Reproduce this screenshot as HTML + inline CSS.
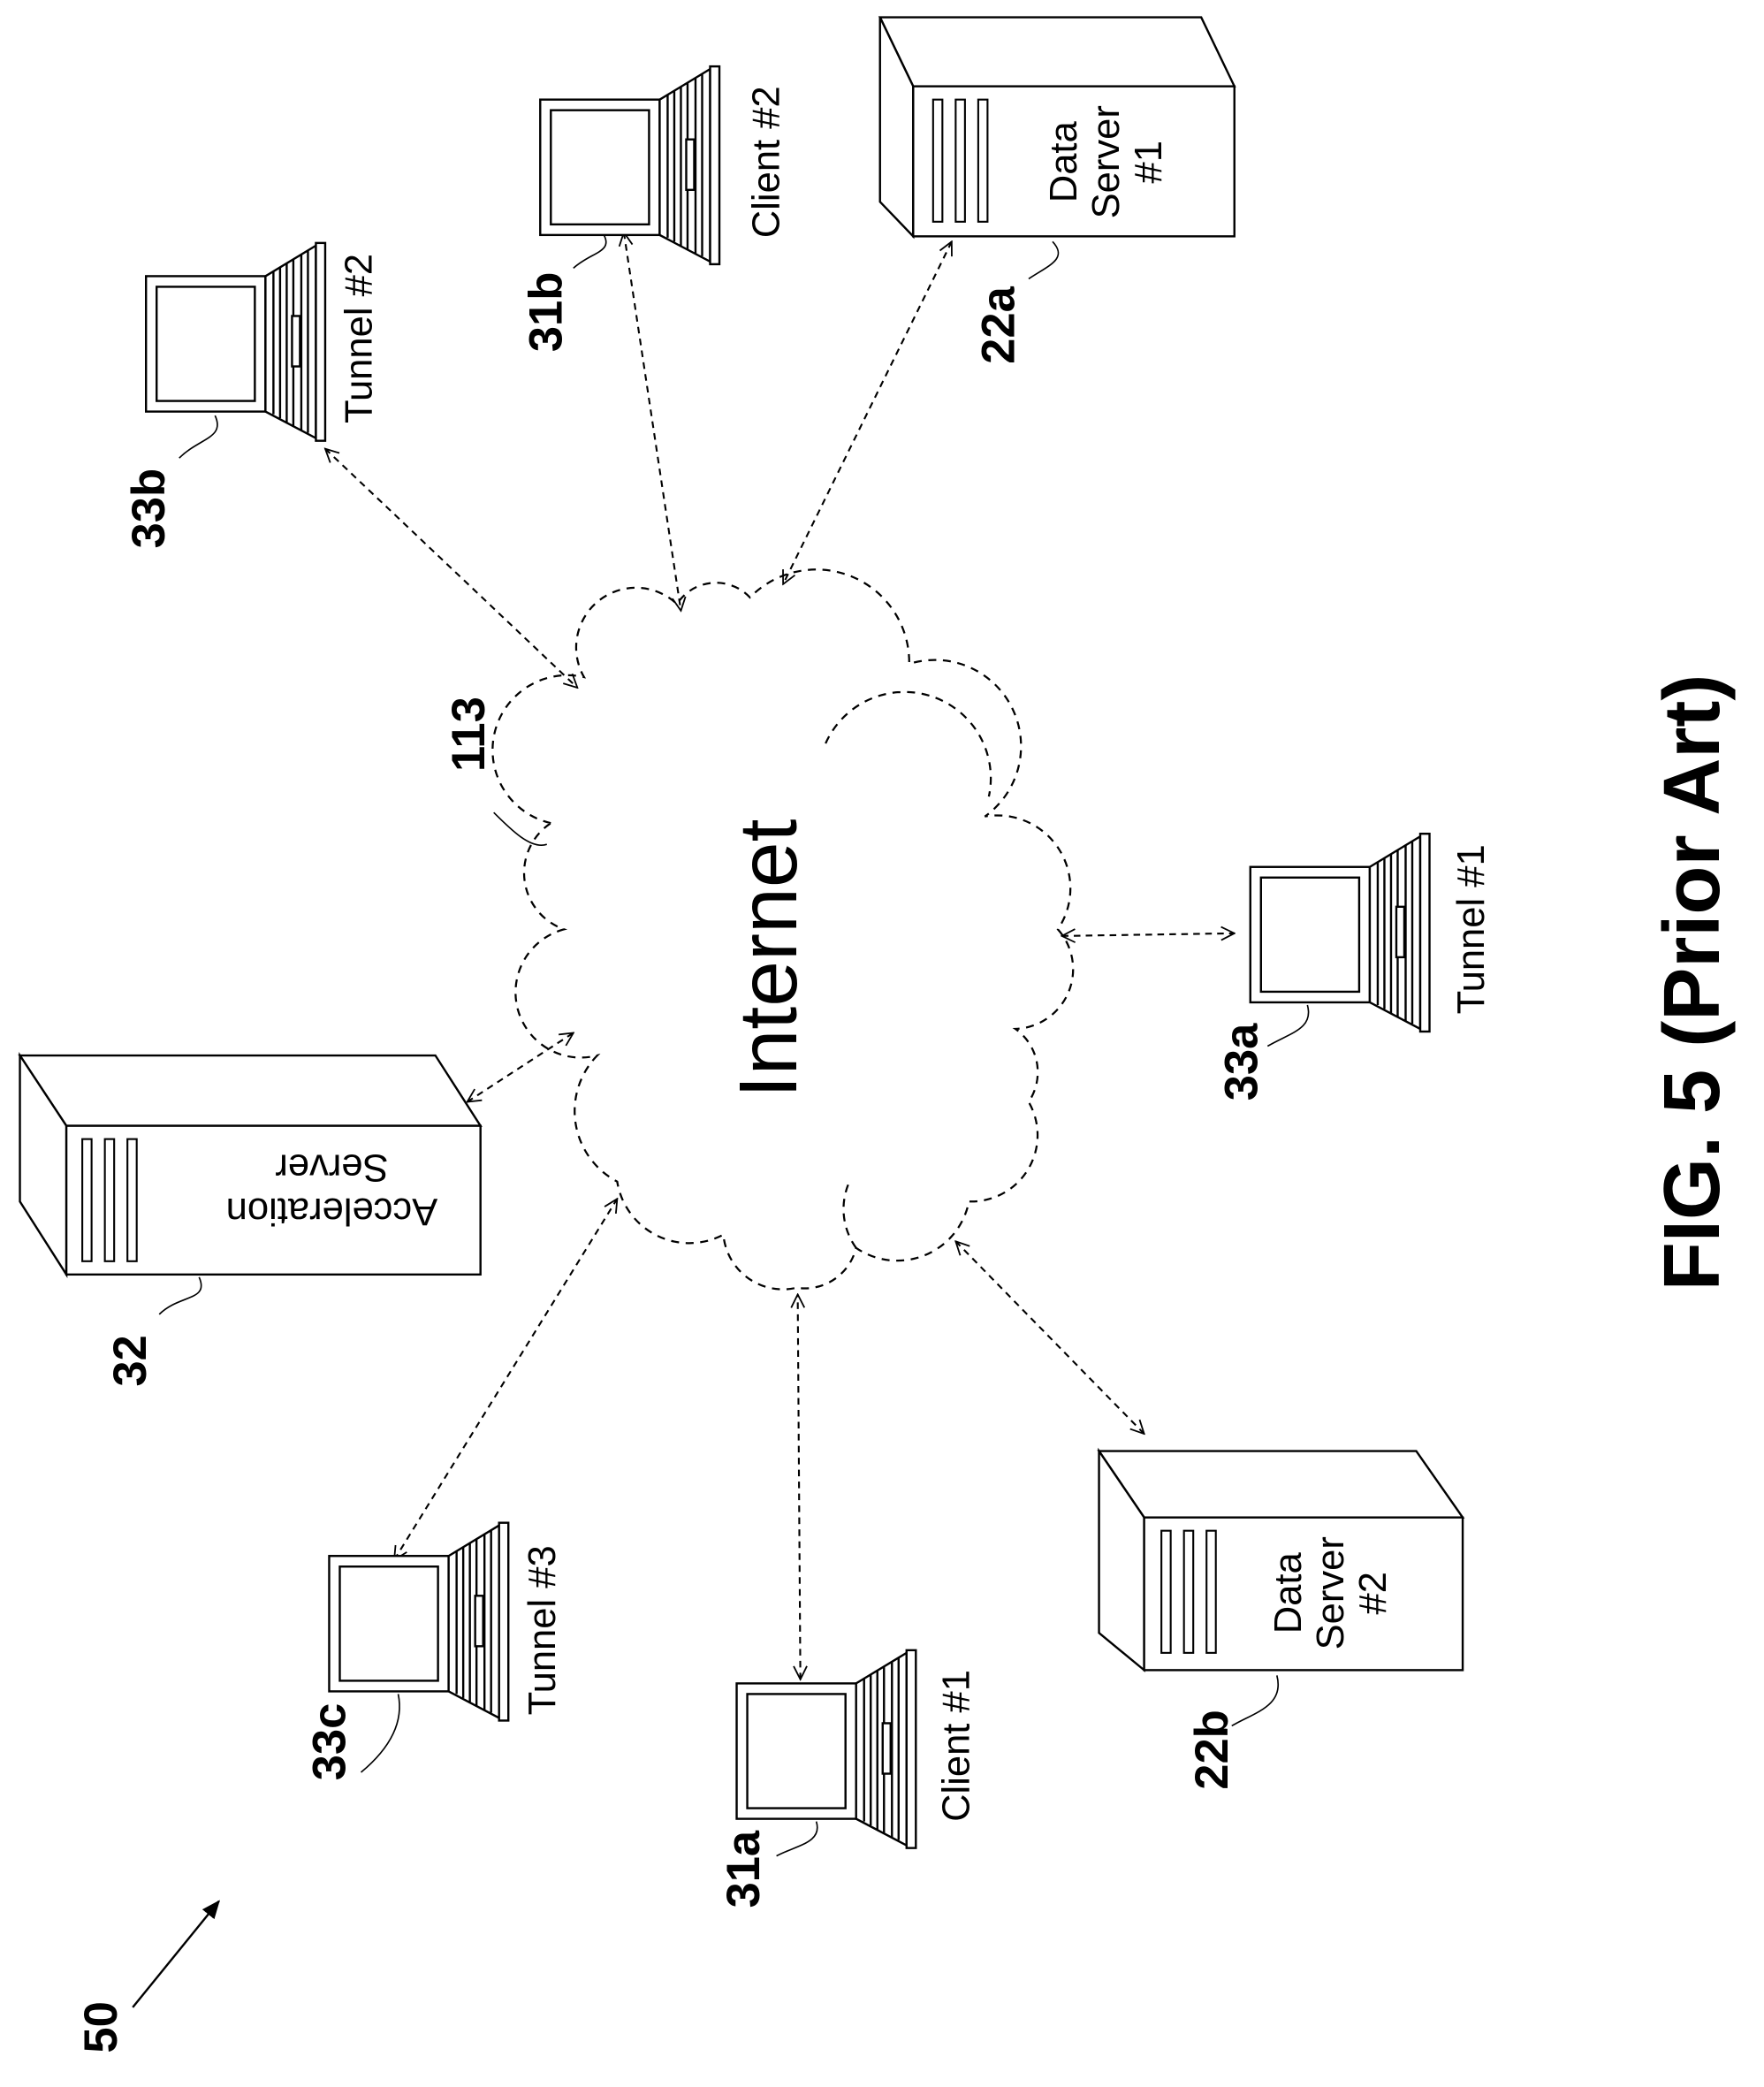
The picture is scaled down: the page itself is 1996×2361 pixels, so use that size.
<!DOCTYPE html>
<html><head><meta charset="utf-8"><style>
html,body{margin:0;padding:0;background:#fff;}
svg{display:block;}
text{font-family:"Liberation Sans",Arial,sans-serif;fill:#000;}
.b{font-weight:bold;}
</style></head><body>
<svg width="1996" height="2361" viewBox="0 0 1329 1572" xmlns="http://www.w3.org/2000/svg">
<defs>
<marker id="ah" viewBox="0 0 12 12" refX="11" refY="6" markerWidth="12" markerHeight="12" markerUnits="userSpaceOnUse" orient="auto-start-reverse">
<path d="M1,1 L11,6 L1,11" fill="none" stroke="#000" stroke-width="1.2"/>
</marker>
<marker id="ahs" viewBox="0 0 12 12" refX="11" refY="6" markerWidth="14" markerHeight="14" markerUnits="userSpaceOnUse" orient="auto">
<path d="M0,1 L12,6 L0,11 z" fill="#000"/>
</marker>
<g id="lap" fill="none" stroke="#000" stroke-width="1.6">
<rect x="0" y="0" width="90" height="102" fill="#fff"/>
<rect x="8" y="8" width="74" height="86"/>
<polygon points="90,0 128,-23 128,122 90,102" fill="#fff"/>
<rect x="128" y="-25" width="7" height="149" fill="#fff"/>
<line x1="96" y1="-4" x2="96" y2="104"/>
<line x1="101" y1="-7" x2="101" y2="107"/>
<line x1="106" y1="-10" x2="106" y2="110"/>
<line x1="111" y1="-13" x2="111" y2="113"/>
<line x1="117" y1="-16" x2="117" y2="116"/>
<line x1="122" y1="-19" x2="122" y2="118"/>
<rect x="110" y="30" width="6" height="38" fill="#fff"/>
</g>
<g id="bars" fill="none" stroke="#000" stroke-width="1.4">
<rect x="0" y="0" width="7" height="92"/>
<rect x="17" y="0" width="7" height="92"/>
<rect x="34" y="0" width="7" height="92"/>
</g>
</defs>

<g fill="none" stroke="#000" stroke-width="1.5" stroke-dasharray="6,5">
<path d="M415,620 A50,50 0 0 1 440,510 A45,45 0 0 1 510,455 A35,35 0 0 1 565,450 A70,70 0 0 1 685,500 A65,65 0 0 1 742,615 A55,55 0 0 1 797,700 A45,45 0 0 1 765,775 A40,40 0 0 1 775,830 A50,50 0 0 1 730,905 A55,55 0 0 1 645,940 A40,40 0 0 1 600,970 A45,45 0 0 1 545,930 A55,55 0 0 1 465,890 A60,60 0 0 1 450,795 A45,45 0 0 1 425,700 A45,45 0 0 1 415,620"/>
<path d="M622,560 A65,65 0 0 1 745,600"/>
<path d="M645,940 A50,50 0 0 1 640,890"/>
</g>
<text transform="translate(600,722) rotate(-90)" text-anchor="middle" font-size="62">Internet</text>

<g stroke="#000" stroke-width="1.4" stroke-dasharray="5,4" fill="none" marker-start="url(#ah)" marker-end="url(#ah)">
<line x1="245" y1="338" x2="435" y2="518"/>
<line x1="470" y1="175" x2="513" y2="460"/>
<line x1="717" y1="182" x2="590" y2="440"/>
<line x1="800" y1="705" x2="930" y2="703"/>
<line x1="352" y1="830" x2="432" y2="778"/>
<line x1="297" y1="1175" x2="465" y2="903"/>
<line x1="603" y1="1265" x2="601" y2="975"/>
<line x1="862" y1="1080" x2="720" y2="935"/>
</g>
<line x1="100" y1="1512" x2="165" y2="1432" stroke="#000" stroke-width="1.6" marker-end="url(#ahs)"/>

<use href="#lap" x="110" y="208"/>
<use href="#lap" x="407" y="75"/>
<use href="#lap" x="942" y="653"/>
<use href="#lap" x="248" y="1172"/>
<use href="#lap" x="555" y="1268"/>

<g fill="#fff" stroke="#000" stroke-width="1.6">
<polygon points="663,13 905,13 930,65 688,65"/>
<polygon points="663,13 688,65 688,178 663,152"/>
<rect x="688" y="65" width="242" height="113"/>
</g>
<use href="#bars" x="703" y="75"/>
<g fill="#fff" stroke="#000" stroke-width="1.6">
<polygon points="15,795 328,795 362,848 50,848"/>
<polygon points="15,795 50,848 50,960 15,905"/>
<rect x="50" y="848" width="312" height="112"/>
</g>
<use href="#bars" x="62" y="858"/>
<g fill="#fff" stroke="#000" stroke-width="1.6">
<polygon points="828,1093 1067,1093 1102,1143 862,1143"/>
<polygon points="828,1093 862,1143 862,1258 828,1230"/>
<rect x="862" y="1143" width="240" height="115"/>
</g>
<use href="#bars" x="875" y="1153"/>

<g font-size="29">
<text transform="translate(280,255) rotate(-90)" text-anchor="middle">Tunnel #2</text>
<text transform="translate(587,122) rotate(-90)" text-anchor="middle">Client #2</text>
<text transform="translate(1118,700) rotate(-90)" text-anchor="middle">Tunnel #1</text>
<text transform="translate(418,1228) rotate(-90)" text-anchor="middle">Tunnel #3</text>
<text transform="translate(730,1315) rotate(-90)" text-anchor="middle">Client #1</text>
<text transform="translate(811,122) rotate(-90)" text-anchor="middle">Data</text>
<text transform="translate(843,122) rotate(-90)" text-anchor="middle">Server</text>
<text transform="translate(875,122) rotate(-90)" text-anchor="middle">#1</text>
<text transform="translate(980,1200) rotate(-90)" text-anchor="middle">Data</text>
<text transform="translate(1012,1200) rotate(-90)" text-anchor="middle">Server</text>
<text transform="translate(1044,1200) rotate(-90)" text-anchor="middle">#2</text>
<text transform="translate(250,870) rotate(180)" text-anchor="middle">Server</text>
<text transform="translate(250,903) rotate(180)" text-anchor="middle">Acceleration</text>
</g>

<g class="b" font-size="35">
<text class="b" transform="translate(124,383) rotate(-90)" text-anchor="middle">33b</text>
<text class="b" transform="translate(423,235) rotate(-90)" text-anchor="middle">31b</text>
<text class="b" transform="translate(764,245) rotate(-90)" text-anchor="middle">22a</text>
<text class="b" transform="translate(365,553) rotate(-90)" text-anchor="middle">113</text>
<text class="b" transform="translate(947,800) rotate(-90)" text-anchor="middle">33a</text>
<text class="b" transform="translate(110,1025) rotate(-90)" text-anchor="middle">32</text>
<text class="b" transform="translate(260,1312) rotate(-90)" text-anchor="middle">33c</text>
<text class="b" transform="translate(572,1408) rotate(-90)" text-anchor="middle">31a</text>
<text class="b" transform="translate(925,1318) rotate(-90)" text-anchor="middle">22b</text>
<text class="b" transform="translate(88,1527) rotate(-90)" text-anchor="middle">50</text>
</g>
<text class="b" transform="translate(1295,740) rotate(-90)" text-anchor="middle" font-size="60">FIG. 5 (Prior Art)</text>

<g fill="none" stroke="#000" stroke-width="1.1">
<path d="M135,345 C150,330 170,330 162,313"/>
<path d="M432,202 C445,190 462,190 455,177"/>
<path d="M775,210 C790,200 805,195 793,182"/>
<path d="M372,612 C385,625 400,640 412,636"/>
<path d="M955,788 C972,778 990,775 985,757"/>
<path d="M120,990 C135,975 158,980 150,962"/>
<path d="M272,1335 C290,1320 305,1300 300,1276"/>
<path d="M585,1398 C600,1390 620,1388 615,1372"/>
<path d="M928,1300 C945,1290 968,1285 962,1262"/>
</g>
</svg>
</body></html>
